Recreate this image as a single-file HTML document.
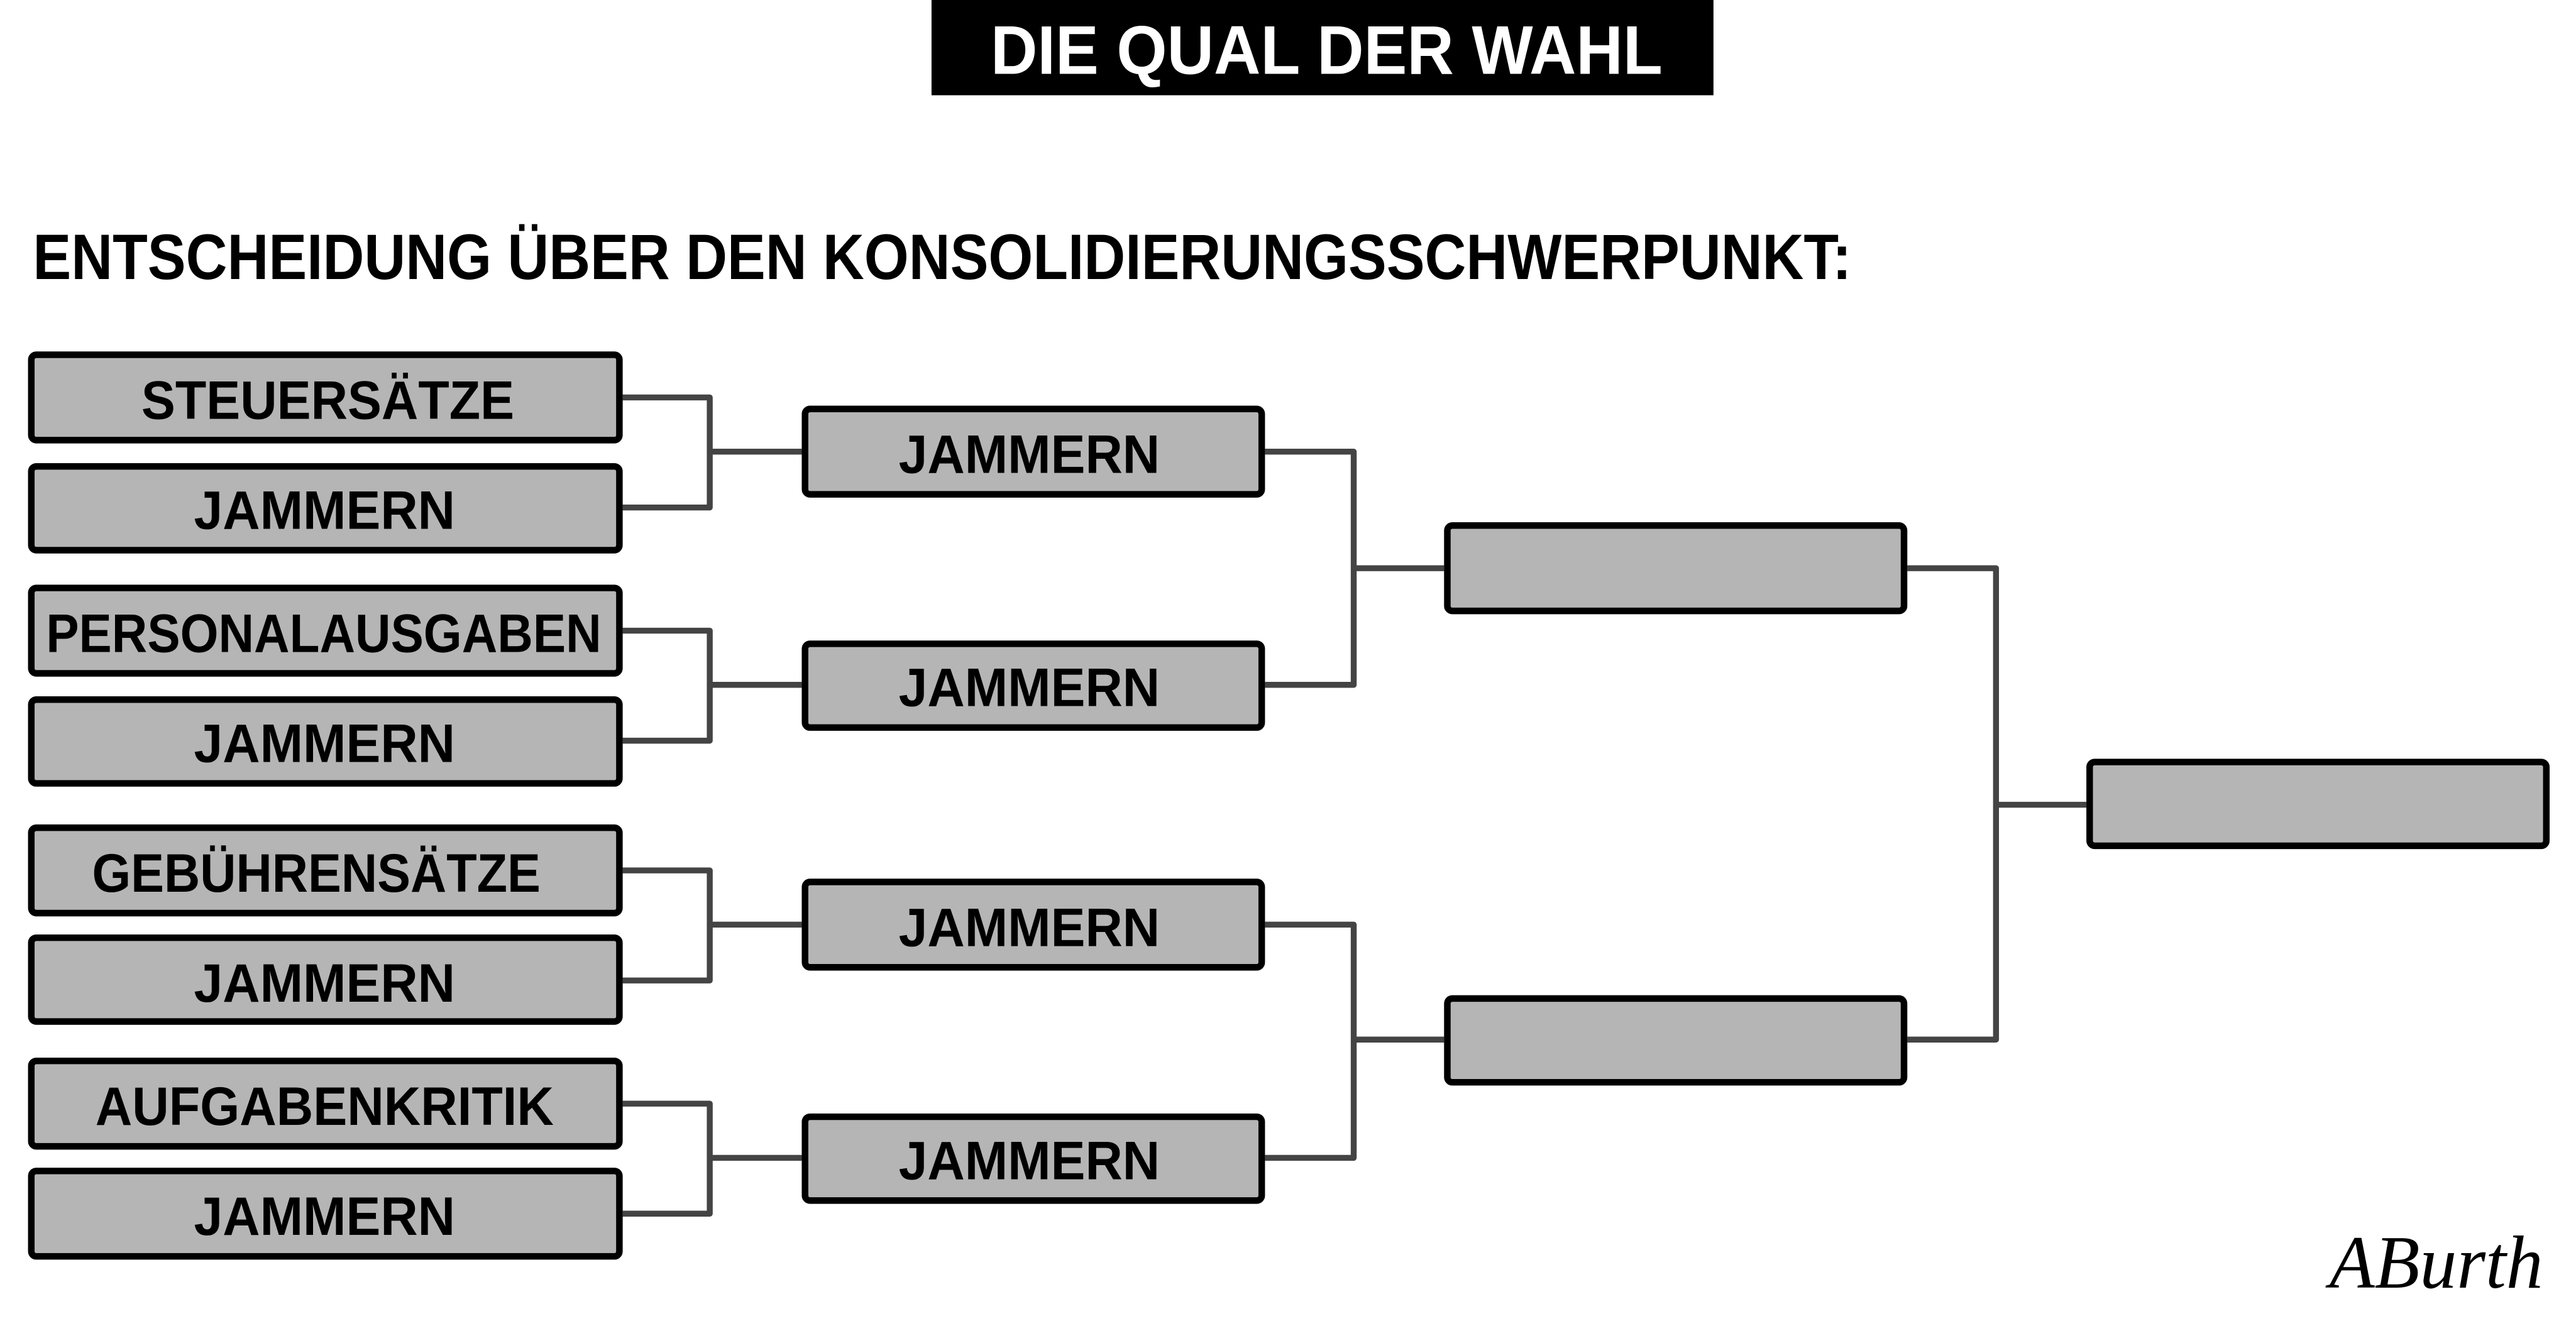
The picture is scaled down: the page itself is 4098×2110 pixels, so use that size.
<!DOCTYPE html>
<html><head><meta charset="utf-8"><style>
html,body{margin:0;padding:0;background:#fff;}
svg{display:block;}
text{font-family:"Liberation Sans",sans-serif;font-weight:bold;}
</style></head><body>
<svg width="4098" height="2110" viewBox="0 0 1568 807.4" xmlns="http://www.w3.org/2000/svg">
<rect x="0" y="0" width="1568" height="807.4" fill="#fff"/>
<rect x="567" y="0" width="476" height="58" fill="#000"/>
<text x="603" y="45" font-size="42" fill="#fff" textLength="409" lengthAdjust="spacingAndGlyphs">DIE QUAL DER WAHL</text>
<text x="20" y="170" font-size="39" fill="#000" textLength="1107" lengthAdjust="spacingAndGlyphs">ENTSCHEIDUNG ÜBER DEN KONSOLIDIERUNGSSCHWERPUNKT:</text>
<g fill="none" stroke="#444" stroke-width="3.6" stroke-linejoin="round">
<path d="M379 242H432V309H379M432 275H488"/>
<path d="M379 384H432V451H379M432 417H488"/>
<path d="M379 530H432V597H379M432 563H488"/>
<path d="M379 672H432V739H379M432 705H488"/>
<path d="M770 275H824V417H770M824 346H879"/>
<path d="M770 563H824V705H770M824 633H879"/>
<path d="M1161 346H1215V633H1161M1215 490H1270"/>
</g>
<g fill="#b5b5b5" stroke="#000" stroke-width="4">
<rect x="19" y="216" width="358" height="52" rx="3"/>
<rect x="19" y="284" width="358" height="51" rx="3"/>
<rect x="19" y="358" width="358" height="52" rx="3"/>
<rect x="19" y="426" width="358" height="51" rx="3"/>
<rect x="19" y="504" width="358" height="52" rx="3"/>
<rect x="19" y="571" width="358" height="51" rx="3"/>
<rect x="19" y="646" width="358" height="52" rx="3"/>
<rect x="19" y="713" width="358" height="52" rx="3"/>
<rect x="490" y="249" width="278" height="52" rx="3"/>
<rect x="490" y="392" width="278" height="51" rx="3"/>
<rect x="490" y="537" width="278" height="52" rx="3"/>
<rect x="490" y="680" width="278" height="51" rx="3"/>
<rect x="881" y="320" width="278" height="52" rx="3"/>
<rect x="881" y="608" width="278" height="51" rx="3"/>
<rect x="1272" y="464" width="278" height="51" rx="3"/>
</g>
<g font-size="33" fill="#000">
<text x="86" y="255" textLength="227" lengthAdjust="spacingAndGlyphs">STEUERSÄTZE</text>
<text x="118" y="322" textLength="159" lengthAdjust="spacingAndGlyphs">JAMMERN</text>
<text x="28" y="397" textLength="338" lengthAdjust="spacingAndGlyphs">PERSONALAUSGABEN</text>
<text x="118" y="464" textLength="159" lengthAdjust="spacingAndGlyphs">JAMMERN</text>
<text x="56" y="543" textLength="273" lengthAdjust="spacingAndGlyphs">GEBÜHRENSÄTZE</text>
<text x="118" y="610" textLength="159" lengthAdjust="spacingAndGlyphs">JAMMERN</text>
<text x="58" y="685" textLength="279" lengthAdjust="spacingAndGlyphs">AUFGABENKRITIK</text>
<text x="118" y="752" textLength="159" lengthAdjust="spacingAndGlyphs">JAMMERN</text>
<text x="547" y="288" textLength="159" lengthAdjust="spacingAndGlyphs">JAMMERN</text>
<text x="547" y="430" textLength="159" lengthAdjust="spacingAndGlyphs">JAMMERN</text>
<text x="547" y="576" textLength="159" lengthAdjust="spacingAndGlyphs">JAMMERN</text>
<text x="547" y="718" textLength="159" lengthAdjust="spacingAndGlyphs">JAMMERN</text>
</g>
<text x="1418" y="784" font-size="46" font-style="italic" font-weight="normal" style="font-family:'Liberation Serif',serif;font-weight:normal" fill="#000" textLength="130" lengthAdjust="spacingAndGlyphs">ABurth</text>
</svg>
</body></html>
